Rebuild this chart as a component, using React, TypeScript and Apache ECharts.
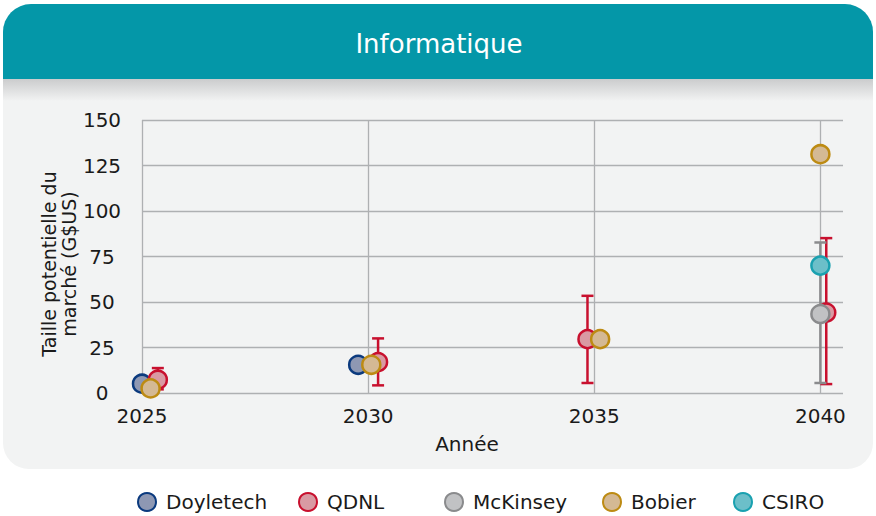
import React, { useEffect, useRef } from "react";
import * as echarts from "echarts";

const seriesNames = ["Doyletech", "QDNL", "McKinsey", "Bobier", "CSIRO"];

const doyletechX = [2025, 2029.78];
const doyletechY = [5.1, 15.5];

const qdnlX = [2025.35, 2030.22, 2034.85, 2040.13];
const qdnlY = [7.3, 17.0, 29.6, 44.2];
const qdnlLow = [2.0, 4.2, 5.5, 4.9];
const qdnlHigh = [13.7, 30.0, 53.4, 85.1];

const mckinseyX = [2040];
const mckinseyY = [43.4];
const mckinseyLow = [5.5];
const mckinseyHigh = [82.7];

const bobierX = [2025.19, 2030.07, 2035.13, 2040];
const bobierY = [2.5, 15.5, 29.6, 131.2];

const csiroX = [2040];
const csiroY = [70.0];

const xTicks = [2025, 2030, 2035, 2040];
const yTicks = [0, 25, 50, 75, 100, 125, 150];

const title = "Informatique";
const xName = "Année";
const yName = "Taille potentielle du\nmarché (G$US)";

const FONT = "DejaVu Sans";
const TEXT = "#1a1a1a";

const styles: Record<string, { fill: string; border: string }> = {
  Doyletech: { fill: "#8e98b3", border: "#0b3a7e" },
  QDNL: { fill: "#d99aa3", border: "#c8102e" },
  McKinsey: { fill: "#c1c2c4", border: "#8a8b8d" },
  Bobier: { fill: "#d4b994", border: "#bd8b13" },
  CSIRO: { fill: "#6cbfc9", border: "#1aa1b0" },
};

const zip = (xs: number[], ys: number[]) => xs.map((x, i) => [x, ys[i]]);

function errorSeries(name: string, xs: number[], lows: number[], highs: number[], color: string) {
  return {
    type: "custom",
    name: name + " err",
    z: 1,
    silent: true,
    clip: false,
    data: xs.map((x, i) => [x, lows[i], highs[i]]),
    renderItem: (params: any, api: any) => {
      const x = api.value(0);
      const lo = api.coord([x, api.value(1)]);
      const hi = api.coord([x, api.value(2)]);
      const cw = 6;
      const st = { stroke: color, lineWidth: 2.5 };
      return {
        type: "group",
        children: [
          { type: "line", shape: { x1: lo[0], y1: lo[1], x2: hi[0], y2: hi[1] }, style: st },
          { type: "line", shape: { x1: lo[0] - cw, y1: lo[1], x2: lo[0] + cw, y2: lo[1] }, style: st },
          { type: "line", shape: { x1: hi[0] - cw, y1: hi[1], x2: hi[0] + cw, y2: hi[1] }, style: st },
        ],
      };
    },
  };
}

function scatter(name: string, xs: number[], ys: number[]) {
  return {
    type: "scatter",
    name,
    z: 3,
    clip: false,
    symbol: "circle",
    symbolSize: 18,
    data: zip(xs, ys),
    itemStyle: {
      color: styles[name].fill,
      borderColor: styles[name].border,
      borderWidth: 2.5,
      opacity: 1,
    },
  };
}

const legendLefts = [137, 298, 444, 602, 733];

export default function App() {
  const ref = useRef<HTMLDivElement>(null);
  useEffect(() => {
    document.body.style.margin = "0";
    const chart = echarts.init(ref.current!, null, { renderer: "svg" });
    const option: any = {
      animation: false,
      backgroundColor: "#ffffff",
      textStyle: { fontFamily: FONT, color: TEXT },
      graphic: [
        {
          type: "rect",
          z: -10,
          silent: true,
          shape: { x: 3, y: 4, width: 870, height: 465, r: [28, 28, 26, 26] },
          style: { fill: "#f2f3f3" },
        },
        {
          type: "rect",
          z: -9,
          silent: true,
          shape: { x: 3, y: 4, width: 870, height: 75, r: [28, 28, 0, 0] },
          style: { fill: "#0497a8" },
        },
        {
          type: "rect",
          z: -9,
          silent: true,
          shape: { x: 3, y: 79, width: 870, height: 22 },
          style: {
            fill: new echarts.graphic.LinearGradient(0, 0, 0, 1, [
              { offset: 0, color: "#cbcccd" },
              { offset: 1, color: "#f2f3f3" },
            ]),
          },
        },
        {
          type: "text",
          z: 5,
          x: 439,
          y: 44,
          style: {
            text: title,
            fill: "#ffffff",
            font: `500 26px "${FONT}"`,
            align: "center",
            verticalAlign: "middle",
          },
        },
        {
          type: "text",
          z: 5,
          x: 467,
          y: 444,
          style: {
            text: xName,
            fill: TEXT,
            font: `20px "${FONT}"`,
            align: "center",
            verticalAlign: "middle",
          },
        },
        {
          type: "text",
          z: 5,
          x: 59,
          y: 264,
          rotation: Math.PI / 2,
          style: {
            text: yName,
            fill: TEXT,
            font: `19px "${FONT}"`,
            lineHeight: 20,
            align: "center",
            verticalAlign: "middle",
          },
        },
      ],
      grid: { left: 142, right: 33, top: 120, bottom: 123, containLabel: false },
      xAxis: {
        type: "value",
        min: xTicks[0],
        max: 2040.5,
        interval: 5,
        axisLine: { show: false },
        axisTick: { show: false },
        axisLabel: {
          showMaxLabel: false,
          margin: 13,
          fontSize: 20,
          fontFamily: FONT,
          color: TEXT,
          formatter: (v: number) => (xTicks.includes(v) ? String(v) : ""),
        },
        splitLine: {
          show: true,
          lineStyle: {
            color: ["#aeb0b2", "#aeb0b2", "#aeb0b2", "#aeb0b2", "rgba(0,0,0,0)"],
            width: 1.3,
          },
        },
      },
      yAxis: {
        type: "value",
        min: yTicks[0],
        max: yTicks[yTicks.length - 1],
        interval: 25,
        axisLine: { show: false },
        axisTick: { show: false },
        axisLabel: {
          margin: 40,
          align: "center",
          fontSize: 20,
          fontFamily: FONT,
          color: TEXT,
        },
        splitLine: { show: true, lineStyle: { color: "#aeb0b2", width: 1.3 } },
      },
      legend: seriesNames.map((n, i) => ({
        data: [n],
        left: legendLefts[i],
        top: 492,
        itemWidth: 18,
        itemHeight: 18,
        icon: "circle",
        padding: 0,
        textStyle: { fontSize: 20, fontFamily: FONT, color: TEXT, padding: [0, 0, 0, 5] },
        selectedMode: false,
      })),
      series: [
        errorSeries("QDNL", qdnlX, qdnlLow, qdnlHigh, styles.QDNL.border),
        errorSeries("McKinsey", mckinseyX, mckinseyLow, mckinseyHigh, styles.McKinsey.border),
        scatter("Doyletech", doyletechX, doyletechY),
        scatter("QDNL", qdnlX, qdnlY),
        scatter("McKinsey", mckinseyX, mckinseyY),
        scatter("Bobier", bobierX, bobierY),
        scatter("CSIRO", csiroX, csiroY),
      ],
    };
    chart.setOption(option);
    return () => chart.dispose();
  }, []);
  return <div ref={ref} style={{ width: 876, height: 516 }} />;
}
